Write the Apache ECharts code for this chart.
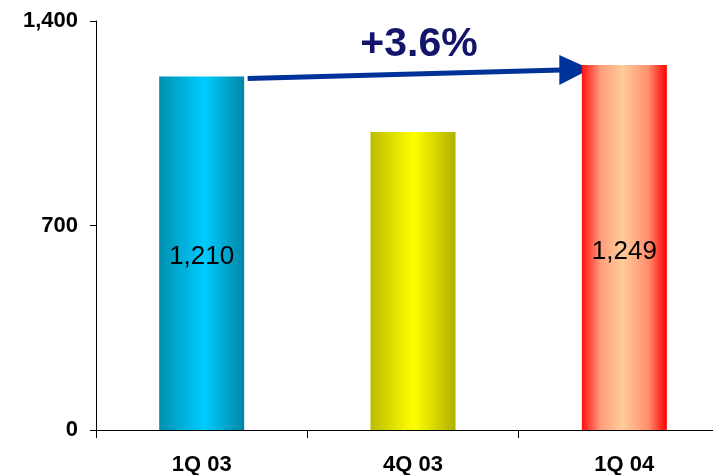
<!DOCTYPE html>
<html>
<head>
<meta charset="utf-8">
<script src="https://cdn.jsdelivr.net/npm/echarts@6/dist/echarts.min.js"></script>
<style>
  html, body { margin: 0; padding: 0; background: #fff; }
  #main { width: 713px; height: 475px; }
</style>
</head>
<body>
<div id="main"></div>
<script>
// data
var categories = ['1Q 03', '4Q 03', '1Q 04'];
var values = [1210, 1020, 1249];
var showLabel = [true, false, true];
var yTicks = [0, 700, 1400];
var growthText = '+3.6%';

// horizontal gradients for each bar (color, offset)
var barColors = [
    [['#0090b0', 0], ['#00ccff', 0.53], ['#0086a6', 1]],
    [['#bcbc00', 0], ['#ffff00', 0.51], ['#b0b000', 1]],
    [['#ff1010', 0], ['#ff9c7c', 0.22], ['#ffcc99', 0.48], ['#ff9070', 0.78], ['#ff0000', 1]]
];

var font = 'Liberation Sans, Arial, sans-serif';

var dom = document.getElementById('main');
var myChart = echarts.init(dom, null, { renderer: 'canvas' });

var seriesData = values.map(function (v, i) {
    return {
        value: v,
        itemStyle: {
            color: new echarts.graphic.LinearGradient(0, 0, 1, 0, barColors[i].map(function (s) {
                return { offset: s[1], color: s[0] };
            }))
        },
        label: { show: showLabel[i] }
    };
});

var option = {
    animation: false,
    backgroundColor: '#fff',
    // plot area runs past the right edge, like the original slide
    grid: { left: 96, width: 634, top: 21, bottom: 45, outerBoundsMode: 'none', containLabel: false },
    xAxis: {
        type: 'category',
        data: categories,
        axisLine: { lineStyle: { color: '#000', width: 1 } },
        axisTick: { show: true, length: 8, lineStyle: { color: '#000' } },
        axisLabel: {
            color: '#000', fontFamily: font, fontWeight: 'bold', fontSize: 22, margin: 24
        }
    },
    yAxis: {
        type: 'value',
        min: yTicks[0],
        max: yTicks[yTicks.length - 1],
        interval: yTicks[1] - yTicks[0],
        axisLine: { show: true, lineStyle: { color: '#000', width: 1 } },
        axisTick: { show: true, length: 6, lineStyle: { color: '#000' } },
        splitLine: { show: false },
        axisLabel: {
            color: '#000', fontFamily: font, fontWeight: 'bold', fontSize: 22, margin: 18,
            formatter: function (v) { return v.toLocaleString('en-US'); }
        }
    },
    series: [{
        type: 'bar',
        barWidth: 85,
        data: seriesData,
        label: {
            position: 'inside',
            offset: [0, 4],
            color: '#000',
            fontFamily: font,
            fontSize: 26,
            formatter: function (p) { return p.value.toLocaleString('en-US'); }
        }
    }]
};

myChart.setOption(option, true);

// growth arrow from first bar to last bar
var p0 = myChart.convertToPixel({ seriesIndex: 0 }, [0, values[0]]);
var p2 = myChart.convertToPixel({ seriesIndex: 0 }, [2, values[2]]);
var x0 = p0[0] + 46, y0 = p0[1] + 2;
var tipX = p2[0] - 34, tipY = p2[1] + 4;
var headLen = 31, headHalf = 15;
var baseY = y0 + (tipY - y0) * (tipX - headLen - x0) / (tipX - x0);

myChart.setOption({
    graphic: [
        {
            type: 'line',
            shape: { x1: x0, y1: y0, x2: tipX - headLen + 2, y2: baseY },
            style: { stroke: '#003399', lineWidth: 5 }
        },
        {
            type: 'polygon',
            shape: { points: [[tipX, tipY], [tipX - headLen, baseY - headHalf], [tipX - headLen, baseY + headHalf]] },
            style: { fill: '#003399' }
        },
        {
            type: 'text',
            x: (x0 + tipX) / 2,
            y: (y0 + tipY) / 2 - 29,
            style: {
                text: growthText,
                fill: '#14146b',
                font: 'bold 41px ' + font,
                align: 'center',
                verticalAlign: 'middle'
            }
        }
    ]
});
</script>
</body>
</html>
